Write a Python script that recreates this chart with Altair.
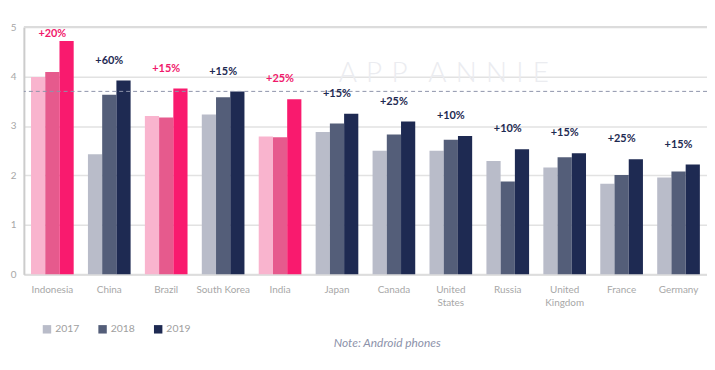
import altair as alt
import pandas as pd

countries = ["Indonesia", "China", "Brazil", "South Korea", "India", "Japan",
             "Canada", "United\nStates", "Russia", "United\nKingdom", "France", "Germany"]
v2017 = [3.99, 2.43, 3.20, 3.23, 2.79, 2.88, 2.50, 2.50, 2.29, 2.16, 1.83, 1.96]
v2018 = [4.09, 3.63, 3.17, 3.58, 2.77, 3.05, 2.83, 2.72, 1.88, 2.37, 2.01, 2.08]
v2019 = [4.72, 3.92, 3.76, 3.70, 3.54, 3.25, 3.09, 2.80, 2.53, 2.45, 2.33, 2.22]
growth = ["+20%", "+60%", "+15%", "+15%", "+25%", "+15%",
          "+25%", "+10%", "+10%", "+15%", "+25%", "+15%"]
highlight = ["Indonesia", "Brazil", "India"]
years = ["2017", "2018", "2019"]
average = 3.7
y_ticks = [0, 1, 2, 3, 4, 5]
watermark_text = "APP ANNIE"

rows = []
for i, c in enumerate(countries):
    for y, vals in zip(years, [v2017, v2018, v2019]):
        key = y + (" hl" if c in highlight else "")
        rows.append({"country": c, "year": y, "value": vals[i], "key": key})
df = pd.DataFrame(rows)

lab = pd.DataFrame({
    "country": countries,
    "value": v2019,
    "growth": growth,
    "hl": ["yes" if c in highlight else "no" for c in countries],
})

color_domain = ["2017", "2018", "2019", "2017 hl", "2018 hl", "2019 hl"]
color_range = ["#b9bcc9", "#545e79", "#1e2a52", "#f9b4ce", "#e65a8d", "#f91a6e"]

FONT = "Lato"
xenc = alt.X("country:N", sort=countries, title=None,
             scale=alt.Scale(paddingInner=0.25, paddingOuter=0.125),
             axis=alt.Axis(labelExpr="split(datum.label, '\\n')", labelAngle=0,
                           labelColor="#a7a7a7", labelFontSize=10, labelFont=FONT,
                           labelPadding=10, ticks=False, domainColor="#dddddd",
                           domainWidth=2, labelLineHeight=13))
yscale = alt.Scale(domain=[0, 5], nice=False)

bars = alt.Chart(df).mark_bar(size=14.3).encode(
    x=xenc,
    xOffset=alt.XOffset("year:N", sort=years),
    y=alt.Y("value:Q", scale=yscale, title=None,
            axis=alt.Axis(values=y_ticks, format="d", labelColor="#a7a7a7",
                          labelFontSize=10, labelFont=FONT, ticks=False,
                          labelPadding=8, domainColor="#cccccc", domainWidth=2,
                          gridColor="#e2e2e2", gridWidth=1.5)),
    color=alt.Color("key:N", scale=alt.Scale(domain=color_domain, range=color_range),
                    legend=alt.Legend(values=years, title=None, orient="none",
                                      direction="horizontal", legendX=18, legendY=299,
                                      symbolType="square", symbolSize=72,
                                      symbolStrokeWidth=0, labelColor="#a0a0a0",
                                      labelFontSize=10.5, labelFont=FONT,
                                      columnPadding=18, labelOffset=3)),
)

top_line = alt.Chart(pd.DataFrame({"v": [5]})).mark_rule(color="#dcdcdc", strokeWidth=2).encode(
    y=alt.Y("v:Q", scale=yscale))

avg = alt.Chart(pd.DataFrame({"v": [average]})).mark_rule(
    color="#8e93aa", strokeDash=[4, 3], strokeWidth=1).encode(y=alt.Y("v:Q", scale=yscale))

labels = alt.Chart(lab).transform_calculate(
    ly="min(datum.value + 0.4, 4.86)"
).mark_text(fontWeight="bold", fontSize=11, font=FONT).encode(
    x=alt.X("country:N", sort=countries),
    y=alt.Y("ly:Q", scale=yscale),
    text="growth:N",
    color=alt.Color("hl:N", scale=alt.Scale(domain=["yes", "no"], range=["#f0196b", "#1e2a52"]),
                    legend=None),
)

# letter-spaced watermark (narrow spaces between letters, em space between words)
spaced = "\u2003".join("\u2004".join(w) for w in watermark_text.split(" "))
watermark = alt.Chart(pd.DataFrame({"t": [spaced]})).mark_text(
    fontSize=28, font=FONT, fontWeight=300, color="#ebecf0", align="left",
    baseline="middle").encode(x=alt.value(317), y=alt.value(47), text="t:N")

note = alt.Chart(pd.DataFrame({"t": ["Note: Android phones"]})).mark_text(
    fontSize=12, font=FONT, fontStyle="italic", color="#8c92aa", align="center").encode(
    x=alt.value(366), y=alt.value(318), text="t:N")

chart = alt.layer(watermark, top_line, bars, avg, labels, note).resolve_scale(
    color="independent").properties(
    width=688, height=249,
    autosize=alt.AutoSizeParams(type="none"),
    padding={"left": 16, "top": 18, "right": 0, "bottom": 80},
).configure_view(stroke=None).configure(background="white")

chart.save("out.html", embed_options={"renderer": "svg", "actions": False})
